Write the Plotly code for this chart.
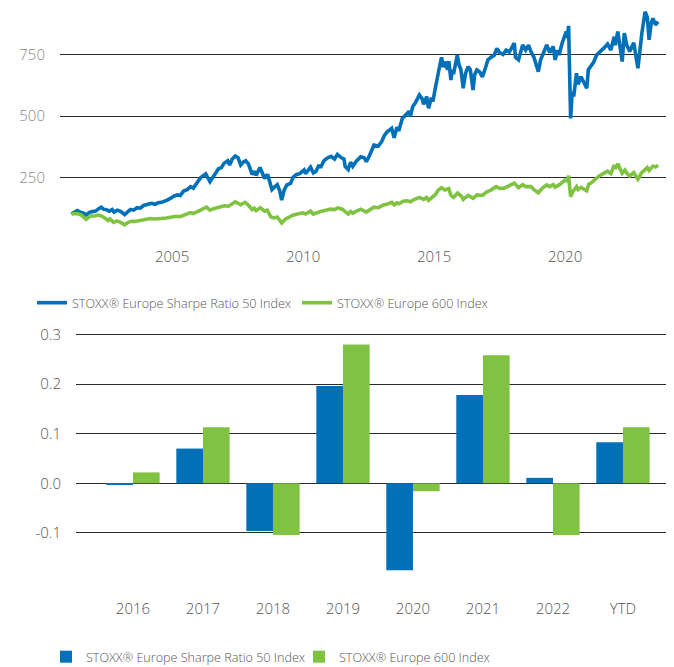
import plotly.graph_objects as go

# ---------------- data: index levels ----------------
sharpe_points = [
    ("2001-03-01", 100), ("2001-04-15", 108), ("2001-05-20", 114), ("2001-07-01", 108),
    ("2001-08-15", 104), ("2001-09-21", 96), ("2001-11-01", 106), ("2001-12-15", 110),
    ("2002-02-01", 112), ("2002-03-15", 122), ("2002-04-20", 128), ("2002-05-20", 120),
    ("2002-07-01", 118), ("2002-08-10", 112), ("2002-09-20", 118), ("2002-10-15", 108),
    ("2002-12-01", 116), ("2003-01-20", 110), ("2003-03-12", 98), ("2003-04-20", 108),
    ("2003-06-01", 119), ("2003-07-15", 116), ("2003-09-01", 126), ("2003-10-15", 124),
    ("2003-12-01", 135), ("2004-02-01", 140), ("2004-03-20", 144), ("2004-05-10", 140),
    ("2004-06-20", 146), ("2004-08-10", 148), ("2004-09-20", 152), ("2004-11-01", 158),
    ("2004-12-20", 166), ("2005-02-01", 174), ("2005-03-20", 178), ("2005-04-25", 176),
    ("2005-06-10", 194), ("2005-08-01", 200), ("2005-09-15", 212), ("2005-10-25", 206),
    ("2005-12-15", 228), ("2006-02-01", 248), ("2006-04-15", 264), ("2006-05-20", 240),
    ("2006-06-14", 232), ("2006-07-20", 248), ("2006-08-25", 262), ("2006-10-10", 285),
    ("2006-11-20", 290), ("2006-12-25", 307), ("2007-02-15", 318), ("2007-03-14", 300),
    ("2007-04-20", 325), ("2007-06-01", 337), ("2007-07-10", 330), ("2007-08-16", 300),
    ("2007-09-20", 312), ("2007-10-25", 318), ("2007-12-01", 305), ("2008-01-22", 262),
    ("2008-02-20", 275), ("2008-03-17", 258), ("2008-05-10", 290), ("2008-06-20", 265),
    ("2008-07-15", 245), ("2008-08-25", 262), ("2008-09-20", 235), ("2008-10-24", 200),
    ("2008-11-20", 208), ("2009-01-06", 220), ("2009-02-10", 195), ("2009-03-09", 157),
    ("2009-04-15", 200), ("2009-05-20", 219), ("2009-07-10", 225), ("2009-08-15", 250),
    ("2009-10-01", 262), ("2009-11-15", 265), ("2010-01-15", 280), ("2010-02-05", 265),
    ("2010-04-15", 292), ("2010-05-25", 268), ("2010-07-01", 275), ("2010-08-10", 300),
    ("2010-09-01", 290), ("2010-10-20", 318), ("2010-12-01", 328), ("2011-01-25", 336),
    ("2011-03-15", 325), ("2011-04-25", 344), ("2011-06-20", 330), ("2011-07-25", 325),
    ("2011-08-10", 295), ("2011-09-22", 282), ("2011-10-25", 312), ("2011-11-25", 295),
    ("2012-01-10", 315), ("2012-03-15", 334), ("2012-05-01", 330), ("2012-06-01", 314),
    ("2012-07-01", 330), ("2012-08-10", 358), ("2012-09-15", 382), ("2012-11-15", 378),
    ("2012-12-31", 396), ("2013-02-05", 420), ("2013-03-15", 435), ("2013-05-20", 450),
    ("2013-06-24", 412), ("2013-08-01", 455), ("2013-08-28", 440), ("2013-10-15", 491),
    ("2013-11-25", 505), ("2014-01-20", 520), ("2014-02-04", 498), ("2014-03-10", 540),
    ("2014-04-15", 555), ("2014-06-10", 587), ("2014-07-20", 570), ("2014-08-08", 548),
    ("2014-09-20", 580), ("2014-10-16", 532), ("2014-11-25", 575), ("2014-12-16", 560),
    ("2015-01-15", 610), ("2015-02-20", 675), ("2015-03-20", 705), ("2015-04-15", 740),
    ("2015-05-10", 700), ("2015-06-01", 723), ("2015-07-08", 690), ("2015-07-25", 725),
    ("2015-08-24", 648), ("2015-09-10", 690), ("2015-09-29", 672), ("2015-11-20", 750),
    ("2015-12-14", 710), ("2016-01-10", 690), ("2016-02-11", 614), ("2016-03-15", 675),
    ("2016-04-20", 702), ("2016-05-20", 690), ("2016-06-27", 607), ("2016-07-20", 670),
    ("2016-08-20", 689), ("2016-10-01", 680), ("2016-11-04", 660), ("2016-12-20", 700),
    ("2017-01-20", 730), ("2017-03-01", 740), ("2017-04-20", 750), ("2017-05-25", 777),
    ("2017-07-01", 760), ("2017-08-20", 752), ("2017-10-01", 770), ("2017-11-15", 762),
    ("2018-01-23", 798), ("2018-02-09", 740), ("2018-03-23", 730), ("2018-05-20", 791),
    ("2018-07-01", 770), ("2018-08-10", 790), ("2018-09-10", 765), ("2018-10-25", 740),
    ("2018-12-24", 682), ("2019-01-25", 730), ("2019-03-01", 757), ("2019-04-20", 791),
    ("2019-06-01", 760), ("2019-07-20", 785), ("2019-08-15", 730), ("2019-09-20", 770),
    ("2019-10-10", 750), ("2019-11-20", 798), ("2020-01-17", 846), ("2020-01-31", 820),
    ("2020-02-19", 869), ("2020-03-18", 491), ("2020-04-10", 600), ("2020-04-30", 580),
    ("2020-06-08", 675), ("2020-06-30", 630), ("2020-08-10", 661), ("2020-09-20", 640),
    ("2020-10-29", 614), ("2020-11-20", 690), ("2020-12-31", 709), ("2021-02-01", 720),
    ("2021-03-15", 750), ("2021-05-15", 765), ("2021-06-20", 777), ("2021-08-15", 795),
    ("2021-09-30", 770), ("2021-11-15", 825), ("2021-11-30", 790), ("2022-01-05", 846),
    ("2022-01-27", 800), ("2022-03-07", 723), ("2022-04-05", 839), ("2022-05-10", 790),
    ("2022-06-20", 764), ("2022-08-15", 800), ("2022-10-12", 696), ("2022-11-10", 780),
    ("2022-12-06", 839), ("2023-01-20", 927), ("2023-02-20", 905), ("2023-03-17", 812),
    ("2023-04-15", 880), ("2023-05-10", 900), ("2023-06-15", 873), ("2023-07-20", 886),
]

stoxx600_points = [
    ("2001-03-01", 100), ("2001-05-20", 102), ("2001-07-15", 96), ("2001-09-21", 78),
    ("2001-11-15", 92), ("2002-01-15", 92), ("2002-03-15", 96), ("2002-05-10", 90),
    ("2002-07-24", 74), ("2002-08-20", 80), ("2002-10-09", 66), ("2002-11-25", 72),
    ("2003-01-15", 66), ("2003-03-12", 56), ("2003-05-01", 66), ("2003-06-15", 70),
    ("2003-08-01", 70), ("2003-10-01", 74), ("2003-12-15", 78), ("2004-03-01", 82),
    ("2004-05-15", 80), ("2004-08-10", 81), ("2004-10-15", 84), ("2004-12-31", 88),
    ("2005-03-01", 91), ("2005-04-20", 89), ("2005-07-01", 98), ("2005-09-15", 106),
    ("2005-10-25", 102), ("2005-12-31", 110), ("2006-02-15", 118), ("2006-04-25", 128),
    ("2006-06-14", 116), ("2006-08-01", 122), ("2006-10-01", 128), ("2006-12-31", 134),
    ("2007-02-27", 132), ("2007-04-15", 142), ("2007-06-01", 150), ("2007-08-16", 138),
    ("2007-10-15", 148), ("2007-11-26", 138), ("2008-01-22", 118), ("2008-02-20", 124),
    ("2008-03-17", 114), ("2008-05-15", 126), ("2008-07-15", 112), ("2008-08-20", 116),
    ("2008-10-10", 88), ("2008-11-20", 84), ("2009-01-06", 88), ("2009-03-09", 64),
    ("2009-05-01", 80), ("2009-06-15", 86), ("2009-08-01", 94), ("2009-10-15", 100),
    ("2009-12-31", 105), ("2010-02-05", 100), ("2010-04-15", 112), ("2010-05-25", 100),
    ("2010-07-15", 106), ("2010-09-15", 112), ("2010-11-15", 116), ("2011-01-15", 120),
    ("2011-03-15", 118), ("2011-05-01", 125), ("2011-07-01", 120), ("2011-09-22", 100),
    ("2011-10-25", 110), ("2011-11-25", 104), ("2012-01-15", 112), ("2012-03-15", 120),
    ("2012-06-01", 108), ("2012-07-15", 116), ("2012-09-15", 128), ("2012-11-15", 126),
    ("2013-01-25", 137), ("2013-03-15", 140), ("2013-05-22", 148), ("2013-06-24", 138),
    ("2013-08-01", 146), ("2013-09-01", 142), ("2013-10-25", 152), ("2013-12-20", 154),
    ("2014-02-04", 150), ("2014-03-20", 158), ("2014-06-10", 168), ("2014-08-08", 160),
    ("2014-09-20", 168), ("2014-10-16", 156), ("2014-12-01", 170), ("2015-01-20", 180),
    ("2015-03-01", 198), ("2015-04-15", 208), ("2015-06-01", 198), ("2015-07-25", 204),
    ("2015-08-24", 176), ("2015-09-29", 168), ("2015-11-25", 186), ("2016-01-20", 172),
    ("2016-02-11", 160), ("2016-04-20", 176), ("2016-06-27", 164), ("2016-08-20", 178),
    ("2016-11-04", 176), ("2016-12-31", 190), ("2017-03-01", 198), ("2017-05-15", 212),
    ("2017-07-01", 205), ("2017-09-01", 206), ("2017-11-01", 214), ("2018-01-23", 226),
    ("2018-03-23", 208), ("2018-05-20", 220), ("2018-07-01", 212), ("2018-09-10", 212),
    ("2018-10-25", 200), ("2018-12-24", 187), ("2019-02-15", 205), ("2019-04-20", 219),
    ("2019-06-01", 212), ("2019-07-20", 220), ("2019-08-15", 210), ("2019-10-15", 220),
    ("2019-12-31", 239), ("2020-01-31", 235), ("2020-02-19", 257), ("2020-03-18", 171),
    ("2020-04-15", 190), ("2020-06-08", 212), ("2020-06-30", 200), ("2020-08-10", 209),
    ("2020-10-29", 195), ("2020-11-25", 222), ("2020-12-31", 228), ("2021-02-15", 240),
    ("2021-04-15", 255), ("2021-06-15", 265), ("2021-08-15", 275), ("2021-09-30", 265),
    ("2021-11-15", 300), ("2021-12-01", 285), ("2022-01-05", 305), ("2022-03-07", 267),
    ("2022-04-15", 280), ("2022-05-15", 265), ("2022-06-20", 255), ("2022-08-15", 270),
    ("2022-10-12", 242), ("2022-12-01", 268), ("2023-01-20", 285), ("2023-02-20", 290),
    ("2023-03-17", 278), ("2023-05-10", 296), ("2023-06-15", 292), ("2023-07-20", 300),
]

sharpe_dates = [d for d, _ in sharpe_points]
sharpe_levels = [v for _, v in sharpe_points]
stoxx600_dates = [d for d, _ in stoxx600_points]
stoxx600_levels = [v for _, v in stoxx600_points]

# ---------------- data: yearly returns ----------------
return_periods = ["2016", "2017", "2018", "2019", "2020", "2021", "2022", "YTD"]
sharpe_returns = [-0.003, 0.070, -0.096, 0.196, -0.175, 0.178, 0.011, 0.083]
stoxx600_returns = [0.022, 0.113, -0.104, 0.280, -0.016, 0.258, -0.104, 0.113]

series_names = ["STOXX® Europe Sharpe Ratio 50 Index", "STOXX® Europe 600 Index"]
BLUE = "#0070B8"
GREEN = "#80C242"

W, H = 674, 667
OFF = 8  # page body margin offset
FONT = "Open Sans"

fig = go.Figure()

fig.add_trace(go.Scatter(
    x=sharpe_dates, y=sharpe_levels, mode="lines", name=series_names[0],
    line=dict(color=BLUE, width=3.6), xaxis="x", yaxis="y", legend="legend",
))
fig.add_trace(go.Scatter(
    x=stoxx600_dates, y=stoxx600_levels, mode="lines", name=series_names[1],
    line=dict(color=GREEN, width=3.6), xaxis="x", yaxis="y", legend="legend",
))

fig.add_trace(go.Bar(
    x=return_periods, y=sharpe_returns, name=series_names[0],
    marker=dict(color=BLUE, line=dict(width=0)), xaxis="x2", yaxis="y2", legend="legend2",
))
fig.add_trace(go.Bar(
    x=return_periods, y=stoxx600_returns, name=series_names[1],
    marker=dict(color=GREEN, line=dict(width=0)), xaxis="x2", yaxis="y2", legend="legend2",
))

def py(ref_px):
    return (H - (ref_px - OFF)) / H

def px_(ref_px):
    return (ref_px - OFF) / W

grid = "#2a2a2a"
tick_font_y = dict(family=FONT, size=15, color="#888888", weight=300)
tick_font_x = dict(family=FONT, size=15, color="#555555", weight=300)
legend_font = dict(family=FONT, size=12.6, color="#555555", weight=300)

fig.update_layout(
    width=W, height=H,
    margin=dict(l=0, r=0, t=0, b=0, autoexpand=False),
    paper_bgcolor="white", plot_bgcolor="white",
    font=dict(family=FONT, color="#555555"),
    barmode="group", bargap=0.238, bargroupgap=0,
    xaxis=dict(
        domain=[px_(60), px_(674)], type="date",
        range=["2000-09-22", "2024-02-27"],
        tick0="2005-01-01", dtick="M60", tickformat="%Y",
        showgrid=False, zeroline=False, showline=False, ticks="",
        tickfont=tick_font_x, ticklabelstandoff=6, automargin=False,
        anchor="y",
    ),
    yaxis=dict(
        domain=[py(240), py(8)], range=[-6, 942],
        tickvals=[250, 500, 750], ticktext=["250", "500", "750"],
        showgrid=True, gridcolor=grid, gridwidth=1,
        zeroline=False, showline=False, ticks="",
        tickfont=tick_font_y, ticklabelstandoff=14, automargin=False,
        anchor="x",
    ),
    xaxis2=dict(
        domain=[px_(76), px_(674)], type="category",
        range=[-0.814, 7.729],
        showgrid=False, zeroline=False, showline=False, ticks="",
        tickfont=tick_font_x, ticklabelstandoff=10, automargin=False,
        anchor="y2",
    ),
    yaxis2=dict(
        domain=[py(588), py(330)], range=[-0.211, 0.309],
        tickvals=[-0.1, 0.0, 0.1, 0.2, 0.3],
        ticktext=["-0.1", "0.0", "0.1", "0.2", "0.3"],
        showgrid=True, gridcolor=grid, gridwidth=1,
        zeroline=False, showline=False, ticks="",
        tickfont=dict(family=FONT, size=15, color="#555555", weight=300),
        ticklabelstandoff=14, automargin=False,
        anchor="x2",
    ),
    legend=dict(
        orientation="h", x=px_(32), xanchor="left", y=py(303), yanchor="middle",
        font=legend_font, entrywidth=220, entrywidthmode="pixels",
        bgcolor="rgba(0,0,0,0)", itemwidth=30, traceorder="normal",
    ),
    legend2=dict(
        orientation="h", x=px_(46), xanchor="left", y=py(657), yanchor="middle",
        font=legend_font, entrywidth=208, entrywidthmode="pixels",
        bgcolor="rgba(0,0,0,0)", itemwidth=30, traceorder="normal",
    ),
    showlegend=True,
)

fig.write_html("out.html")
